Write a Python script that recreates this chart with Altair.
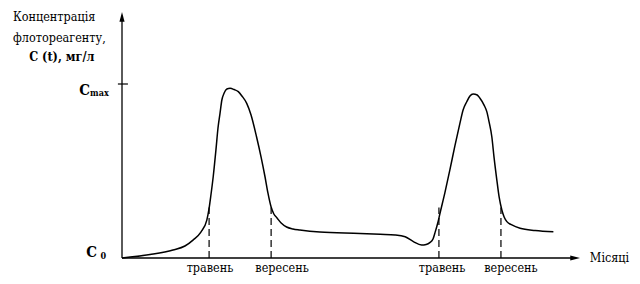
import altair as alt
import pandas as pd

# ---- data (t: time units, c: concentration, Cmax = 100) ----
curve_t = [0, 6.14, 11.18, 13.8, 15.57, 17.3, 18.6, 19.08, 19.5, 20.0, 20.6, 21.05, 21.5, 21.9,
           22.4, 23.0, 23.7, 24.6, 25.5, 26.3, 27.35, 28.3, 29.5, 30.5, 31.36, 32.0, 32.7, 33.3,
           34.0, 34.9, 36.1, 37.5, 39.0, 43.4, 52.2, 56.6, 59.9, 62.1, 63.9, 65.7, 66.7, 67.5,
           68.2, 68.6, 69.3, 69.7, 70.8, 71.9, 73.0, 74.1, 74.8, 75.6, 76.3, 77.0, 77.9, 78.5,
           79.4, 80.0, 80.5, 81.1, 81.6, 82.2, 82.7, 83.3, 83.8, 84.4, 85.5, 87.3, 90.6, 94.6]
curve_c = [0, 2.0, 4.6, 6.9, 10.3, 14.9, 21.8, 28.2, 36.2, 46.7, 62.1, 74.7, 83.3, 90.8,
           94.8, 97.1, 97.5, 96.8, 95.6, 93.1, 88.9, 82.2, 69.7, 58.0, 46.7, 37.4, 29.3, 25.3,
           23.0, 20.1, 17.8, 16.7, 16.1, 14.9, 14.1, 13.6, 13.2, 12.2, 9.4, 7.5, 7.8, 8.8,
           10.9, 14.2, 20.7, 25.3, 37.4, 50.6, 64.4, 77.4, 85.1, 89.8, 93.1, 94.3, 93.7, 91.8,
           87.9, 84.1, 78.2, 69.7, 57.5, 44.8, 35.1, 27.6, 23.6, 20.9, 19.0, 17.1, 15.8, 15.1]

month_labels = ["травень", "вересень", "травень", "вересень"]
month_dash_t = [19.1, 32.7, 69.5, 83.1]
month_label_t = [19.3, 35.1, 70.2, 85.3]
dash_top_c = [29, 29, 29, 29]

title_lines = ["Концентрація", "флотореагенту,"]
title_bold = "C (t), мг/л"
x_title = "Місяці"

X_DOMAIN = [-25, 111.84]
Y_DOMAIN = [-10.345, 143.68]
FONT = "DejaVu Serif Condensed"
FS = 12.5


def X(field="t"):
    return alt.X(f"{field}:Q", scale=alt.Scale(domain=X_DOMAIN, nice=False, zero=False), axis=None)


def Y(field="c"):
    return alt.Y(f"{field}:Q", scale=alt.Scale(domain=Y_DOMAIN, nice=False, zero=False), axis=None)


curve_df = pd.DataFrame({"t": curve_t, "c": curve_c})
curve = alt.Chart(curve_df).mark_line(color="black", strokeWidth=1.5, interpolate="monotone").encode(
    x=X(), y=Y()
)

dash_df = pd.DataFrame({"t": month_dash_t, "c": [0] * 4, "c2": dash_top_c})
dashes = alt.Chart(dash_df).mark_rule(color="black", strokeWidth=1.2, strokeDash=[7, 4]).encode(
    x=X(), y=Y(), y2="c2:Q"
)

month_df = pd.DataFrame({"t": month_label_t, "c": [-8.3] * 4, "label": month_labels})
months = alt.Chart(month_df).mark_text(font=FONT, fontSize=FS, color="black", baseline="alphabetic",
                                       align="center").encode(x=X(), y=Y(), text="label:N")

# axes
yaxis_df = pd.DataFrame({"t": [0], "c": [0], "c2": [138]})
yaxis = alt.Chart(yaxis_df).mark_rule(color="black", strokeWidth=1.3).encode(x=X(), y=Y(), y2="c2:Q")
xaxis_df = pd.DataFrame({"t": [0], "t2": [99], "c": [0]})
xaxis = alt.Chart(xaxis_df).mark_rule(color="black", strokeWidth=1.3).encode(x=X(), x2="t2:Q", y=Y())

yarrow = alt.Chart(pd.DataFrame({"t": [0], "c": [137.9]})).mark_point(
    shape="M0,-1L0.42,0.6L-0.42,0.6Z", size=150, filled=True, color="black", opacity=1
).encode(x=X(), y=Y())
xarrow = alt.Chart(pd.DataFrame({"t": [99.1], "c": [0]})).mark_point(
    shape="M1,0L-0.6,0.42L-0.6,-0.42Z", size=150, filled=True, color="black", opacity=1
).encode(x=X(), y=Y())

tick_df = pd.DataFrame({"t": [-0.9], "t2": [1.3], "c": [100]})
tick = alt.Chart(tick_df).mark_rule(color="black", strokeWidth=1.2).encode(x=X(), x2="t2:Q", y=Y())

# texts
title_df = pd.DataFrame({"t": [-23.9, -23.9], "c": [138.5, 126.4], "label": title_lines})
title_txt = alt.Chart(title_df).mark_text(font=FONT, fontSize=FS, color="black", align="left",
                                          baseline="middle").encode(x=X(), y=Y(), text="label:N")
title_b = alt.Chart(pd.DataFrame({"t": [-13.2], "c": [115.5], "label": [title_bold]})).mark_text(
    font=FONT, fontSize=FS, fontWeight="bold", color="black", align="center", baseline="middle"
).encode(x=X(), y=Y(), text="label:N")

cmax_C = alt.Chart(pd.DataFrame({"t": [-7.0], "c": [93.7], "label": ["C"]})).mark_text(
    font=FONT, fontSize=15, fontWeight="bold", color="black", align="right", baseline="alphabetic"
).encode(x=X(), y=Y(), text="label:N")
cmax_sub = alt.Chart(pd.DataFrame({"t": [-7.0], "c": [93.2], "label": ["max"]})).mark_text(
    font=FONT, fontSize=9, fontWeight="bold", color="black", align="left", baseline="alphabetic"
).encode(x=X(), y=Y(), text="label:N")

c0_C = alt.Chart(pd.DataFrame({"t": [-5.5], "c": [0.3], "label": ["C"]})).mark_text(
    font=FONT, fontSize=15, fontWeight="bold", color="black", align="right", baseline="alphabetic"
).encode(x=X(), y=Y(), text="label:N")
c0_sub = alt.Chart(pd.DataFrame({"t": [-4.7], "c": [-0.6], "label": ["0"]})).mark_text(
    font=FONT, fontSize=9, fontWeight="bold", color="black", align="left", baseline="alphabetic"
).encode(x=X(), y=Y(), text="label:N")

xlab = alt.Chart(pd.DataFrame({"t": [102.6], "c": [0], "label": [x_title]})).mark_text(
    font=FONT, fontSize=FS, color="black", align="left", baseline="middle"
).encode(x=X(), y=Y(), text="label:N")

chart = alt.layer(
    dashes, curve, yaxis, xaxis, yarrow, xarrow, tick, months,
    title_txt, title_b, cmax_C, cmax_sub, c0_C, c0_sub, xlab
).properties(
    width=624, height=268, autosize="none", padding=0,
    background="white"
).configure_view(stroke=None).configure_text(font=FONT)

chart.save("out.html", embed_options={"renderer": "svg", "actions": False})
